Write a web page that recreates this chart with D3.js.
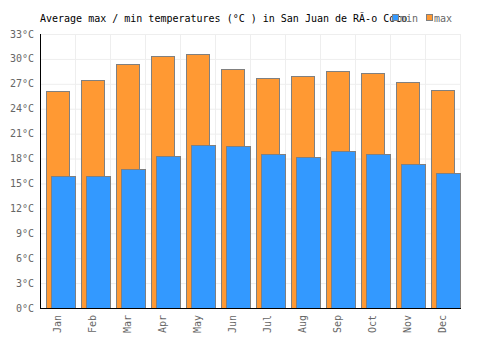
<!DOCTYPE html>
<html>
<head>
<meta charset="utf-8">
<script src="https://cdn.jsdelivr.net/npm/d3@7"></script>
<style>
  body { margin: 0; background: #fff; }
  text { font-family: "DejaVu Sans Mono", monospace; }
</style>
</head>
<body>
<div id="chart"></div>
<script>
var months = ["Jan", "Feb", "Mar", "Apr", "May", "Jun", "Jul", "Aug", "Sep", "Oct", "Nov", "Dec"];
var maxTemps = [26.1, 27.5, 29.35, 30.3, 30.55, 28.75, 27.7, 27.9, 28.5, 28.3, 27.2, 26.3];
var minTemps = [15.9, 15.9, 16.8, 18.3, 19.6, 19.5, 18.5, 18.2, 18.9, 18.6, 17.4, 16.3];
var yTicks = [0, 3, 6, 9, 12, 15, 18, 21, 24, 27, 30, 33];
var title = "Average max / min temperatures (\u00b0C ) in San Juan de R\u00c3-o Coco";

var width = 500, height = 350;
var plotLeft = 40, plotRight = 460, plotTop = 34, plotBottom = 308;

var svg = d3.select("#chart").append("svg")
  .attr("width", width)
  .attr("height", height);

var x = d3.scaleBand()
  .domain(months)
  .range([plotLeft, plotRight])
  .padding(0);

var y = d3.scaleLinear()
  .domain([0, 33])
  .range([plotBottom, plotTop]);

var bw = x.bandwidth();

// grid
var grid = svg.append("g").attr("class", "grid");
grid.selectAll("line.h")
  .data(yTicks)
  .enter().append("line")
  .attr("x1", plotLeft).attr("x2", plotRight)
  .attr("y1", function (d) { return y(d) + 0.5; })
  .attr("y2", function (d) { return y(d) + 0.5; })
  .attr("stroke", "#eeeeee");
grid.selectAll("line.v")
  .data(months)
  .enter().append("line")
  .attr("x1", function (d) { return x(d) + bw + 0.5; })
  .attr("x2", function (d) { return x(d) + bw + 0.5; })
  .attr("y1", plotTop).attr("y2", plotBottom)
  .attr("stroke", "#eeeeee");

// bars
var bars = svg.append("g").attr("class", "bars");
bars.selectAll("rect.max")
  .data(maxTemps)
  .enter().append("rect")
  .attr("class", "max")
  .attr("x", function (d, i) { return Math.round(x(months[i]) + bw * 0.2) - 0.5; })
  .attr("width", 23)
  .attr("y", function (d) { return Math.round(y(d)) + 0.5; })
  .attr("height", function (d) { return plotBottom - Math.round(y(d)); })
  .attr("fill", "#ff9933")
  .attr("stroke", "#808080");

bars.selectAll("rect.min")
  .data(minTemps)
  .enter().append("rect")
  .attr("class", "min")
  .attr("x", function (d, i) { return Math.round(x(months[i]) + bw * 0.33) - 0.5; })
  .attr("width", 24)
  .attr("y", function (d) { return Math.round(y(d)) + 0.5; })
  .attr("height", function (d) { return plotBottom - Math.round(y(d)); })
  .attr("fill", "#3399ff")
  .attr("stroke", "#808080");

// axes
svg.append("line")
  .attr("x1", plotLeft + 0.5).attr("x2", plotLeft + 0.5)
  .attr("y1", plotTop).attr("y2", plotBottom + 1)
  .attr("stroke", "#000");
svg.append("line")
  .attr("x1", plotLeft).attr("x2", plotRight + 1)
  .attr("y1", plotBottom + 0.5).attr("y2", plotBottom + 0.5)
  .attr("stroke", "#000");

svg.append("g").selectAll("text")
  .data(yTicks)
  .enter().append("text")
  .attr("x", plotLeft - 6)
  .attr("y", function (d) { return y(d); })
  .attr("dy", "0.35em")
  .attr("text-anchor", "end")
  .attr("font-size", "10px")
  .attr("fill", "#666")
  .text(function (d) { return d + "\u00b0C"; });

svg.append("g").selectAll("text")
  .data(months)
  .enter().append("text")
  .attr("transform", function (d) {
    return "translate(" + (x(d) + bw / 2 + 3) + "," + (plotBottom + 7) + ") rotate(-90)";
  })
  .attr("text-anchor", "end")
  .attr("font-size", "10px")
  .attr("fill", "#666")
  .text(function (d) { return d; });

// title
svg.append("text")
  .attr("x", plotLeft)
  .attr("y", 22)
  .attr("font-size", "10px")
  .attr("fill", "#000")
  .text(title);

// legend
var legend = svg.append("g");
var legendItems = [{name: "min", color: "#3399ff", x: 392}, {name: "max", color: "#ff9933", x: 426}];
legendItems.forEach(function (item) {
  legend.append("rect")
    .attr("x", item.x + 0.5).attr("y", 14.5)
    .attr("width", 6).attr("height", 6)
    .attr("fill", item.color)
    .attr("stroke", "#808080");
  legend.append("text")
    .attr("x", item.x + 8)
    .attr("y", 22)
    .attr("font-size", "10px")
    .attr("fill", "#666")
    .text(item.name);
});
</script>
</body>
</html>
